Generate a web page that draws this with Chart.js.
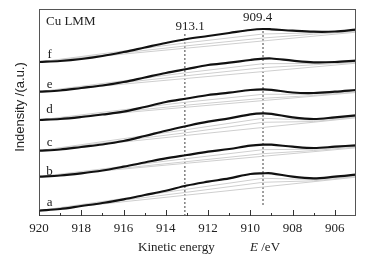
<!DOCTYPE html>
<html>
<head>
<meta charset="utf-8">
<script src="https://cdn.jsdelivr.net/npm/chart.js@4"></script>
<style>
  html, body { margin: 0; padding: 0; background: #fff; }
</style>
</head>
<body>
<canvas id="auger" width="374" height="258"></canvas>
<script>
// kinetic energy grid (eV) for the measured spectra
const energies = [920, 919, 918, 917, 916, 915, 914, 913, 912, 911, 910, 909.4, 909, 908, 907, 906, 905];

// measured Cu LMM spectra, offset for stacking (a.u.)
const specA = [5.3, 7, 10, 13, 16.7, 21, 25.3, 30.5, 34.3, 37.7, 42, 42.7, 42.7, 39.3, 37.7, 39.3, 41.3];
const specB = [39.3, 40.5, 42.7, 45.5, 49.3, 53.5, 57.7, 61, 64.3, 67, 70.3, 71.3, 71.3, 69.3, 68, 69.3, 70.7];
const specC = [65.3, 66.5, 69, 71.5, 75, 80, 85.3, 90, 94.3, 97.7, 101.7, 102.7, 102.2, 98.7, 97, 98.7, 100.7];
const specD = [96, 97, 99, 101.5, 104.3, 109, 114, 117.5, 121, 123.3, 126, 126.7, 126.2, 123.5, 123, 124.3, 126];
const specE = [124.3, 125.5, 128, 130.5, 134, 138.5, 143, 147, 151, 153.3, 156, 157.3, 157.5, 155.3, 153.7, 154, 155.3];
const specF = [154, 155, 157, 160, 164, 168.5, 173, 177, 180, 183, 186, 187, 186.7, 185.3, 184.3, 184.5, 186.3];

// fitted components (grey)
const fitEnergies = [920, 913.1, 909.4, 907, 905];
const fitA1 = [5.3, 26.5, 37.7, 36.5, 40.3];
const fitA2 = [5.3, 23.5, 33.7, 35.2, 39.5];
const fitB1 = [39.3, 57.2, 66.3, 66.8, 69.7];
const fitB2 = [39.3, 54.2, 62.3, 65.5, 68.9];
const fitC1 = [65.3, 86.1, 97.7, 95.8, 99.7];
const fitC2 = [65.3, 83.1, 93.7, 94.5, 98.9];
const fitD1 = [96, 113.7, 121.7, 121.8, 125];
const fitD2 = [96, 110.7, 117.7, 120.5, 124.2];
const fitE1 = [124.3, 143.1, 152.3, 152.5, 154.3];
const fitE2 = [124.3, 140.1, 148.3, 151.2, 153.5];
const fitF1 = [154, 173, 182, 183.1, 185.3];
const fitF2 = [154, 170, 178, 181.8, 184.5];

// linear backgrounds
const bgEnergies = [920, 905];
const bgA = [5.3, 38.8];
const bgB = [39.3, 68.2];
const bgC = [65.3, 98.2];
const bgD = [96, 123.5];
const bgE = [124.3, 152.8];
const bgF = [154, 183.8];

// peak markers
const peakEnergies = [913.1, 909.4];
const peakTops = [183, 186];
const peakBottoms = [0, 11];
const peakLabels = ['913.1', '909.4'];

const curveLabels = ['a', 'b', 'c', 'd', 'e', 'f'];
const curveLabelY = [13, 44, 73, 106, 131, 161];

const majorTicks = [920, 918, 916, 914, 912, 910, 908, 906];
const minorTicks = [919, 917, 915, 913, 911, 909, 907];

const serif = '"Liberation Serif", "Times New Roman", serif';
const sans = '"Liberation Sans", Arial, sans-serif';

function pts(xs, ys) {
  return xs.map((x, i) => ({ x: x, y: ys[i] }));
}

const spectra = [specA, specB, specC, specD, specE, specF];
const fits = [fitA1, fitA2, fitB1, fitB2, fitC1, fitC2, fitD1, fitD2, fitE1, fitE2, fitF1, fitF2];
const backgrounds = [bgA, bgB, bgC, bgD, bgE, bgF];

const datasets = [];
spectra.forEach((s) => {
  datasets.push({
    data: pts(energies, s),
    borderColor: '#111',
    borderWidth: 2.2,
    pointRadius: 0,
    tension: 0.35,
    order: 0,
  });
});
fits.forEach((f) => {
  datasets.push({
    data: pts(fitEnergies, f),
    borderColor: '#cfcfcf',
    borderWidth: 1,
    pointRadius: 0,
    tension: 0,
    order: 1,
  });
});
backgrounds.forEach((b) => {
  datasets.push({
    data: pts(bgEnergies, b),
    borderColor: '#cfcfcf',
    borderWidth: 1,
    pointRadius: 0,
    tension: 0,
    order: 1,
  });
});
peakEnergies.forEach((e, i) => {
  datasets.push({
    data: [{ x: e, y: peakBottoms[i] }, { x: e, y: peakTops[i] }],
    borderColor: '#808080',
    borderWidth: 1.5,
    borderDash: [2, 2],
    pointRadius: 0,
    order: 2,
  });
});

const decorations = {
  id: 'decorations',
  afterDraw(chart) {
    const { ctx, chartArea: a, scales: { x, y } } = chart;
    ctx.save();

    // frame
    ctx.strokeStyle = '#555';
    ctx.lineWidth = 1;
    ctx.strokeRect(a.left + 0.5, a.top + 0.5, a.right - a.left - 1, a.bottom - a.top - 1);

    // inward ticks
    ctx.strokeStyle = '#333';
    ctx.beginPath();
    majorTicks.forEach((v) => {
      const px = Math.round(x.getPixelForValue(v)) + 0.5;
      ctx.moveTo(px, a.bottom);
      ctx.lineTo(px, a.bottom - 6);
    });
    minorTicks.forEach((v) => {
      const px = Math.round(x.getPixelForValue(v)) + 0.5;
      ctx.moveTo(px, a.bottom);
      ctx.lineTo(px, a.bottom - 3);
    });
    ctx.stroke();

    ctx.fillStyle = '#222';
    ctx.textBaseline = 'middle';

    // curve letters
    ctx.font = '13px ' + serif;
    ctx.textAlign = 'center';
    curveLabels.forEach((t, i) => {
      ctx.fillText(t, x.getPixelForValue(919.5), y.getPixelForValue(curveLabelY[i]));
    });

    // peak labels
    ctx.fillText(peakLabels[0], x.getPixelForValue(912.85), 27);
    ctx.fillText(peakLabels[1], x.getPixelForValue(909.65), 18);

    ctx.textAlign = 'left';
    ctx.fillText('Cu LMM', 46, 22);

    // x title
    ctx.font = '13px ' + serif;
    ctx.fillText('Kinetic energy', 138, 248);
    ctx.font = 'italic 13px ' + serif;
    ctx.fillText('E', 250, 248);
    ctx.font = '13px ' + serif;
    ctx.fillText(' /eV', 258, 248);

    // y title
    ctx.font = '13px ' + sans;
    ctx.translate(20, 107);
    ctx.rotate(-Math.PI / 2);
    ctx.textAlign = 'center';
    ctx.fillText('Indensity /(a.u.)', 0, 0);

    ctx.restore();
  },
};

new Chart(document.getElementById('auger'), {
  type: 'line',
  data: { datasets: datasets },
  options: {
    responsive: false,
    animation: false,
    devicePixelRatio: 1,
    layout: { padding: { top: 9, right: 18, left: 0, bottom: 0 } },
    plugins: { legend: { display: false }, tooltip: { enabled: false } },
    scales: {
      x: {
        type: 'linear',
        reverse: true,
        min: 905,
        max: 920,
        grid: { display: false },
        border: { display: false },
        afterBuildTicks: (scale) => {
          scale.ticks = majorTicks.map((v) => ({ value: v }));
        },
        afterFit: (scale) => {
          scale.height = 42;
        },
        ticks: {
          padding: -3,
          maxRotation: 0,
          color: '#222',
          font: { family: serif, size: 13 },
        },
      },
      y: {
        min: 0,
        max: 207,
        grid: { display: false },
        border: { display: false },
        ticks: { display: false },
        afterFit: (scale) => {
          scale.width = 39;
        },
      },
    },
  },
  plugins: [decorations],
});
</script>
</body>
</html>
